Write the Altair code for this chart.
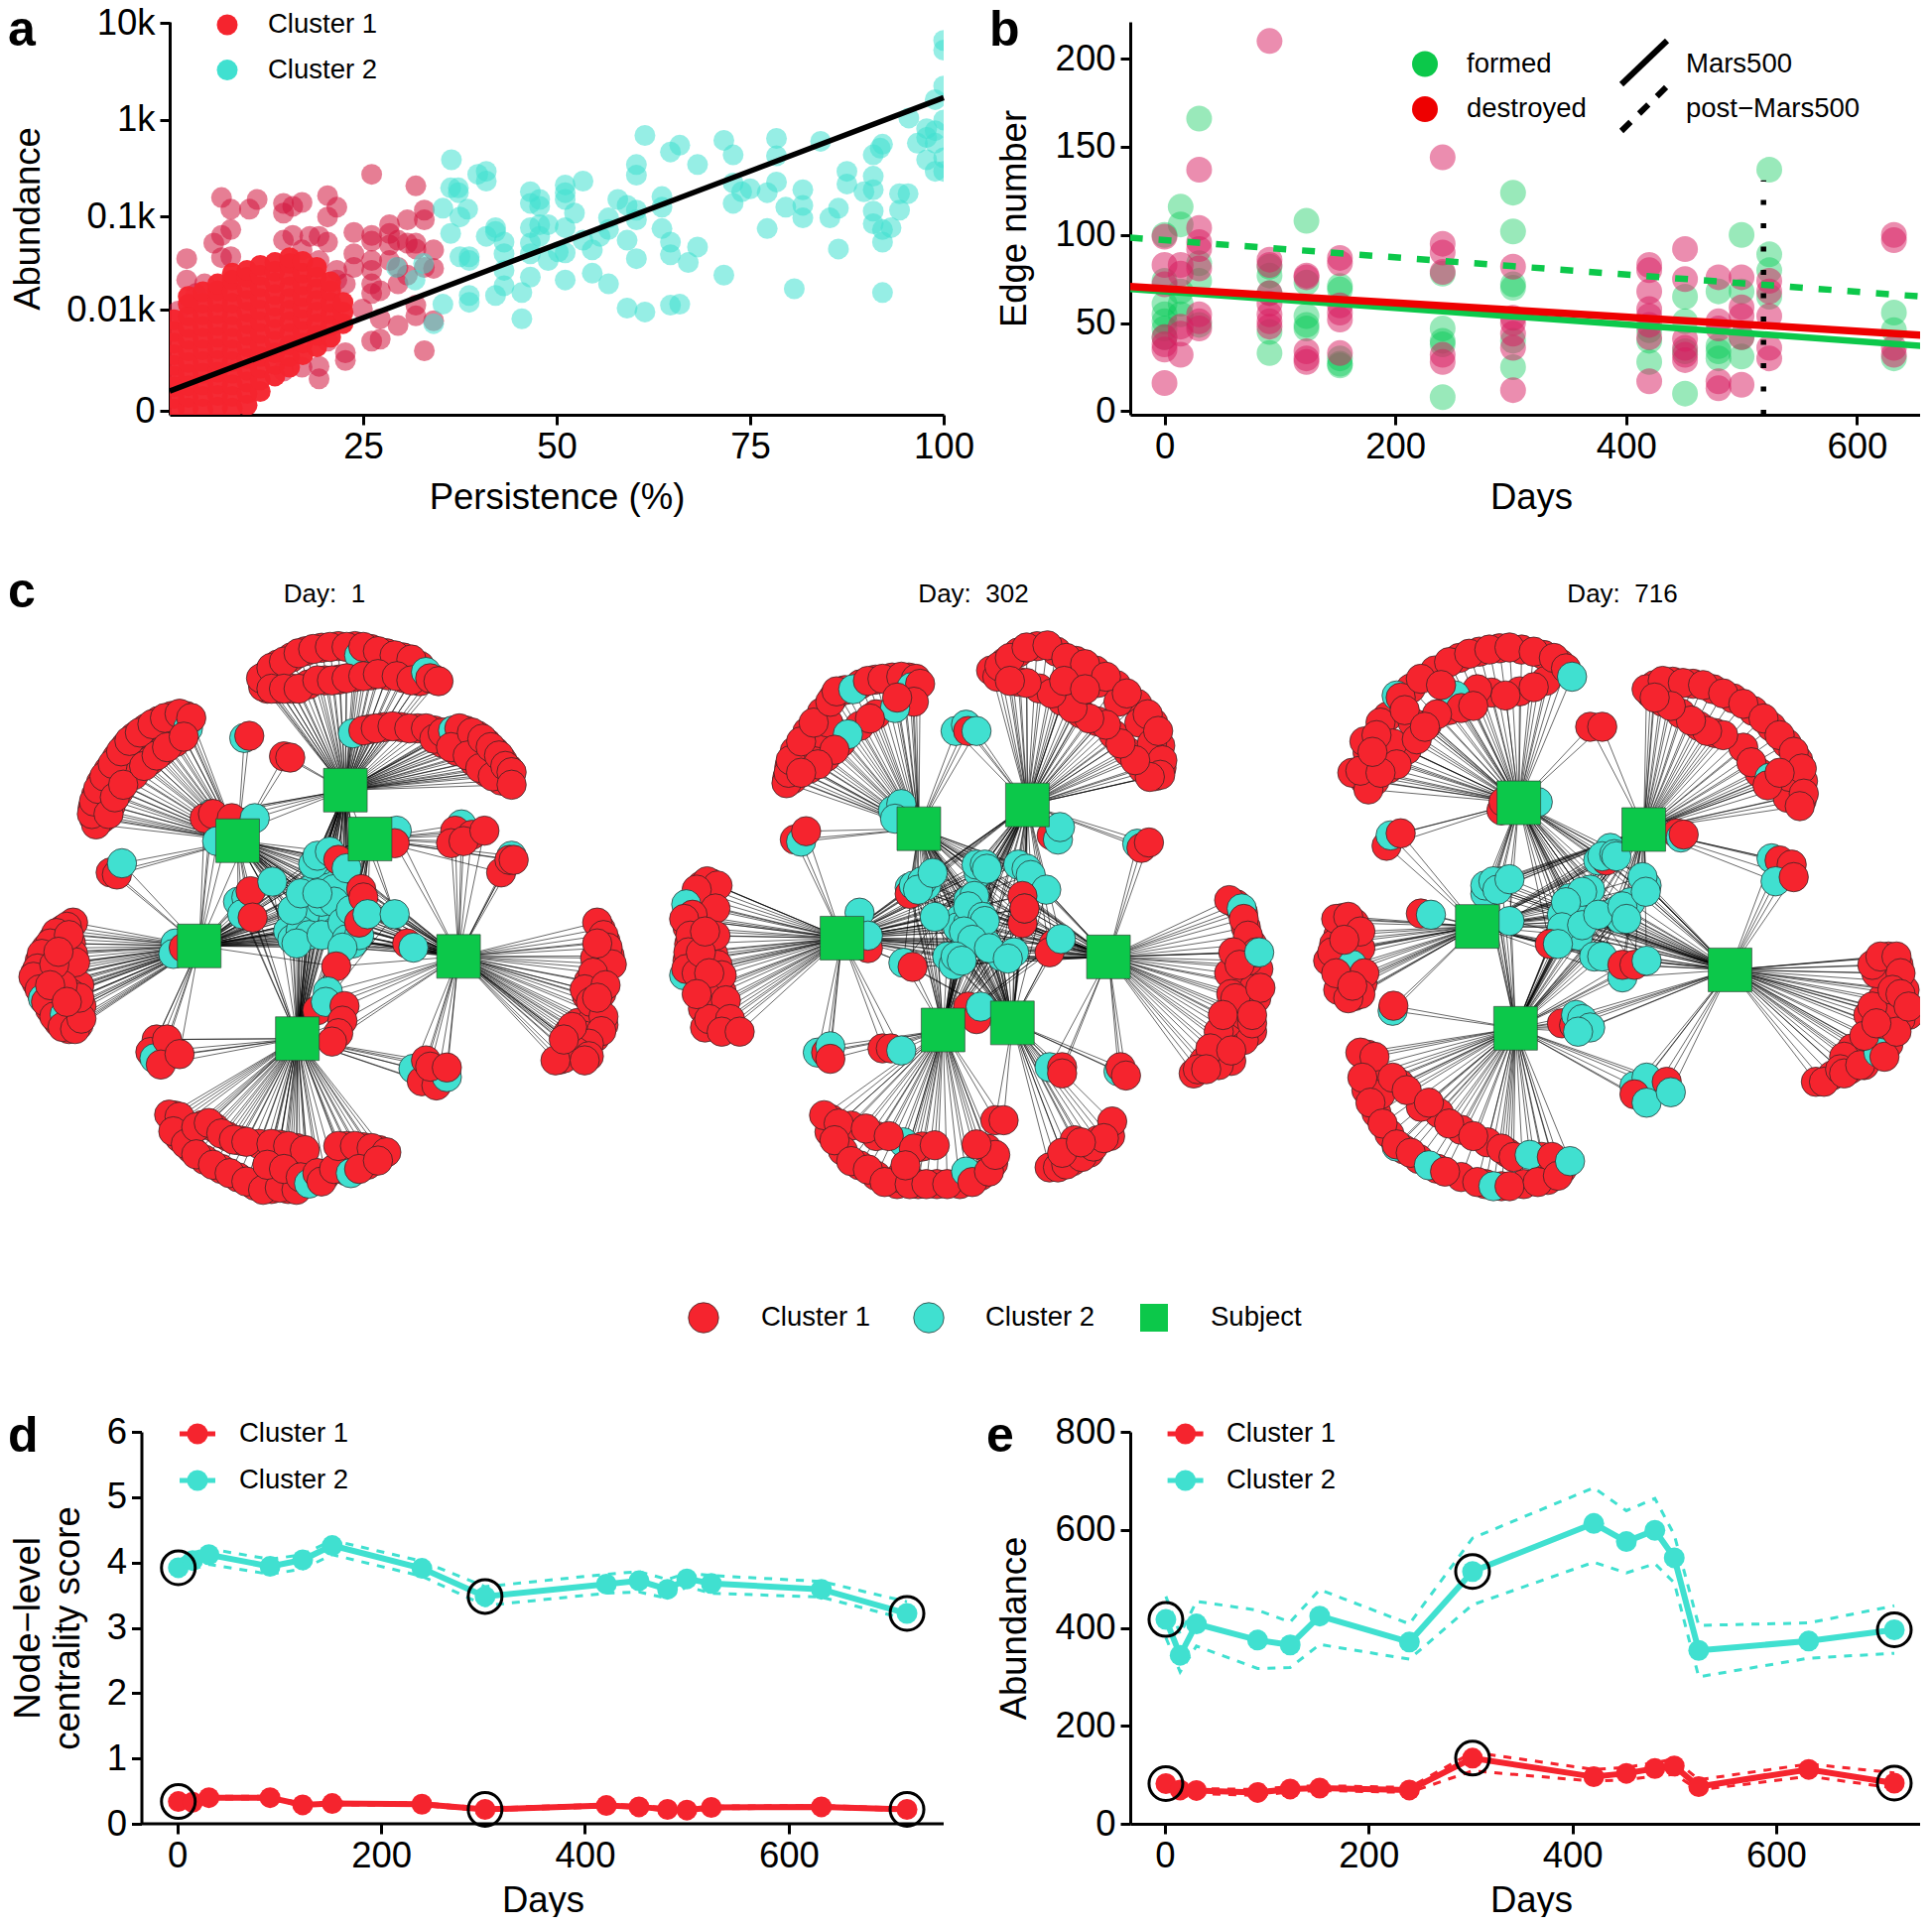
import altair as alt
import pandas as pd

FONT = "Liberation Sans"
RED = "#F5242E"
TEAL = "#40E0D0"
GREEN = "#0CC84A"
CRIMSON = "#D2143C"

# ---------- panel a : persistence (%) against log10(abundance + 1) ----------
A_TEAL = [(100,3.82),(100,3.72),(100,3.35),(98.9,3.21),(100,3.0),(95.5,3.02),(97.8,2.91),(98.9,2.89),(97.8,2.82),(98.9,2.76),(96.6,2.76),(97.8,2.59),(100,2.61),(98.9,2.47),(100,2.47),(92.1,2.75),(91.8,2.71),(90.9,2.64),(84.1,2.78),(78.4,2.81),(78.4,2.63),(71.6,2.79),(72.8,2.64),(65.9,2.74),(64.7,2.67),(68.2,2.54),(61.4,2.84),(60.3,2.54),(60.3,2.43),(36.4,2.59),(40.9,2.47),(39.8,2.44),(40.9,2.37),(53.4,2.37),(51.1,2.33),(46.6,2.26),(37.3,2.3),(36.3,2.3),(37.3,2.25),(35.3,2.09),(38.5,2.08),(37.5,2.0),(72.8,2.35),(78.4,2.36),(75,2.29),(77.2,2.25),(73.9,2.26),(72.8,2.14),(81.8,2.28),(81.8,2.12),(79.6,2.1),(86.4,2.09),(85.3,1.99),(81.8,1.99),(87.5,2.47),(87.5,2.34),(90.9,2.42),(90.9,2.28),(89.7,2.26),(94.3,2.24),(95.4,2.24),(94.3,2.07),(90.9,2.06),(90.9,1.93),(93.2,1.89),(92.1,1.87),(92.1,1.74),(86.4,1.67),(77.2,1.88),(57.9,2.18),(59.1,2.12),(60.3,2.07),(63.6,2.21),(63.6,2.1),(56.7,1.99),(60.3,1.97),(63.6,1.88),(64.7,1.74),(68.2,1.69),(64.7,1.61),(67,1.53),(59.1,1.76),(60.3,1.57),(56.7,1.87),(55.6,1.8),(53.4,1.76),(54.6,1.66),(46.6,2.14),(47.8,2.18),(47.8,2.11),(51.1,2.25),(51.1,2.18),(52.3,2.04),(46.6,1.89),(47.8,1.92),(48.9,1.92),(51.1,1.89),(46.6,1.73),(47.8,1.8),(50.2,1.64),(51.1,1.63),(48.9,1.55),(46.6,1.62),(42.1,1.89),(42.1,1.85),(40.9,1.8),(43.2,1.74),(43.2,1.62),(43.2,1.45),(38.7,1.59),(37.5,1.59),(38.7,1.55),(46.6,1.38),(43.2,1.29),(42.1,1.19),(45.5,1.22),(51.1,1.35),(54.6,1.42),(56.7,1.31),(38.7,1.19),(38.7,1.12),(35.3,1.1),(45.5,0.95),(59.1,1.06),(61.4,1.02),(64.7,1.09),(65.9,1.1),(71.6,1.4),(80.7,1.26),(92.1,1.22),(36.3,1.83),(29.3,1.48),(32.8,1.52),(31.7,1.35),(34.1,0.9)]
A_RED = [(26.1,2.44),(31.8,2.32),(6.7,2.2),(11.3,2.18),(7.9,2.08),(10.3,2.08),(14.7,2.14),(17.1,2.15),(15.9,2.11),(14.7,2.04),(20.4,2.22),(21.6,2.1),(20.4,2.0),(32.9,2.07),(32.9,1.97),(30.7,1.97),(28.4,1.92),(23.8,1.84),(26.1,1.81),(28.4,1.83),(29.5,1.76),(28.4,1.71),(26.1,1.75),(30.7,1.73),(31.8,1.73),(34.1,1.66),(31.8,1.67),(7.9,1.87),(6.7,1.81),(5.7,1.73),(7.9,1.59),(6.7,1.58),(2.2,1.57),(14.7,1.76),(15.9,1.81),(18.1,1.8),(19.3,1.8),(20.4,1.74),(17.1,1.66),(19.3,1.55),(23.8,1.62),(23.8,1.48),(26.1,1.55),(28.4,1.55),(29.5,1.48),(26.1,1.45),(32.9,1.48),(34.1,1.47),(30.7,1.4),(29.5,1.31),(26.1,1.31),(26.1,1.21),(27.2,1.24),(21.6,1.45),(21.6,1.35),(22.7,1.31),(24.9,1.05),(27.2,0.95),(29.5,0.88),(31.8,1.09),(31.8,0.98),(26.1,0.72),(27.2,0.74),(32.9,0.62),(22.7,0.6),(22.7,0.52),(19.3,0.46),(19.3,0.33),(14.7,0.41),(17.1,0.45),(20.4,0.72),(2.2,1.35),(4.5,1.31),(3.4,1.21),(1.1,1.03),(34.1,0.93)]
A_DENSE = {
    0.6:[.02,.13,.25,.36,.47,.58,.7,.82,.94],
    2.4:[.03,.14,.26,.38,.5,.62,.74,.86,.98,1.1,1.18],
    4.3:[.02,.15,.27,.39,.51,.63,.75,.87,.99,1.11,1.23],
    6.2:[.04,.16,.28,.4,.52,.64,.76,.88,1.0,1.12,1.24,1.31],
    8.1:[.03,.15,.27,.39,.51,.63,.75,.87,.99,1.11,1.23,1.35,1.42],
    10.0:[.06,.18,.3,.42,.54,.66,.78,.9,1.02,1.14,1.26,1.38,1.45],
    11.7:[.2,.32,.44,.56,.68,.8,.92,1.04,1.16,1.28,1.4,1.5],
    13.6:[.36,.48,.6,.72,.84,.96,1.08,1.2,1.32,1.44,1.53],
    15.5:[.45,.56,.68,.8,.92,1.04,1.16,1.28,1.4,1.52,1.58],
    17.2:[.58,.7,.82,.94,1.06,1.18,1.3,1.42,1.54],
    19.0:[.66,.78,.9,1.02,1.14,1.26,1.38,1.48],
    20.8:[.76,.88,1.0,1.12,1.24,1.33],
    22.4:[.9,1.02,1.12],
}
A_FIT_X = [0, 100]
A_FIT_Y = [0.204, 3.23]

# ---------- panel b : edges formed / destroyed ----------
B_DESTROYED = {0:[99,83,72,42,35,38,16],14:[83,78,48,44,32],30:[137,104,96,92,81,55,51,47],91:[210,86,83,67,61,55,51,48],123:[77,76,34,30,28],152:[87,84,60,56,52,33],241:[144,95,90,79,32,28],302:[82,53,50,44,36,12],420:[83,80,68,58,54,49,42,17],451:[92,75,41,36,32,29],480:[76,51,47,17,13],500:[76,59,54,42,15],524:[74,68,54,36,30],632:[100,97,36,32]}
B_FORMED = {0:[100,74,61,55,51,47,42],14:[116,106,68,61,55],30:[166,84,74,49],91:[82,77,67,45,33],123:[108,73,54,49,47],152:[71,69,30,27,26],241:[78,47,40,38,8],302:[124,102,72,70,40,25],420:[46,40,28],451:[65,51,34,10],480:[68,37,34,30],500:[100,68,42,31],524:[137,89,80,65],632:[56,46,30]}
B_LINE_X = [-30, 665]
B_RED = [70.7, 42.8]
B_GREEN = [69.4, 36.7]
B_GREEN_POST = [98.5, 64.6]
B_VLINE_DAY = 519

# ---------- panels d, e ----------
DAYS = [1,15,31,91,123,152,240,302,421,453,481,500,524,632,716]
D_T = [3.92,4.03,4.12,3.94,4.04,4.26,3.91,3.48,3.67,3.72,3.59,3.75,3.68,3.59,3.22]
D_T_HI = [4.03,4.15,4.21,4.05,4.12,4.34,4.02,3.63,3.82,3.86,3.74,3.84,3.8,3.71,3.4]
D_T_LO = [3.8,3.9,3.97,3.82,3.9,4.12,3.79,3.34,3.53,3.55,3.45,3.63,3.53,3.47,3.13]
D_R = [.34,.33,.4,.4,.29,.31,.3,.22,.28,.26,.22,.21,.25,.26,.22]
D_R_HI = [.37,.35,.42,.42,.31,.33,.32,.24,.3,.28,.24,.23,.27,.28,.24]
D_R_LO = [.31,.31,.38,.38,.27,.29,.28,.2,.26,.24,.2,.19,.23,.24,.2]
E_T = [417,344,408,375,365,424,371,515,613,576,599,543,354,373,396]
E_T_HI = [464,387,454,436,412,478,408,583,686,639,664,590,405,410,445]
E_T_LO = [380,310,363,317,319,366,336,447,534,512,531,492,300,338,348]
E_R = [82,69,68,64,71,73,69,134,96,103,113,118,76,111,83]
E_R_HI = [90,74,72,70,76,78,74,146,111,115,125,132,90,122,104]
E_R_LO = [74,63,62,58,65,68,64,108,87,90,97,101,69,97,73]
RING_DAYS = [1, 302, 716]

# ---------- panel c : network layouts (layout units; teal nodes carry a trailing 1) ----------
N1_SUBJ = [(827,533),(569,654),(886,650),(477,906),(1098,931),(712,1128)]
N1_GROUPS = [
 ([0],[(640,255),(665,232),(698,215),(732,200),(770,192),(810,188),(850,188),(888,195),(925,205),(965,215),(1005,235),(640,290),(665,290),(698,290),(738,280),(778,270),(812,268),(850,262),(888,258),(928,258),(968,265),(1005,272),(1040,268)]),
 ([0],[(885,387),(920,382),(960,382),(1000,385),(1040,390),(1080,392),(1115,390),(1143,402),(1165,420),(1185,440),(1203,462),(1218,482),(1135,465),(1165,490),(1095,440),(1200,510),(1060,420)]),
 ([1],[(225,600),(222,575),(230,545),(242,515),(260,485),(280,455),(300,428),(322,405),(350,385),(380,367),(412,355),(445,355),(245,600),(265,570),(285,535),(320,497),(360,462),(388,440),(420,418)]),
 ([3],[(148,868),(128,888),(110,912),(95,942),(85,970),(88,995),(102,1025),(120,1058),(140,1088),(165,1105),(188,1095),(170,900),(175,925),(190,1000),(195,1050),(170,1020),(140,980),(110,985),(130,1030),(150,1060)]),
 ([5],[(418,1312),(422,1332),(430,1365),(458,1392),(485,1335),(515,1342),(545,1362),(575,1372),(490,1418),(530,1440),(570,1460),(610,1480),(650,1488),(690,1488),(620,1380),(670,1382),(710,1390),(660,1435),(700,1450),(740,1455),(780,1455),(830,1385),(870,1388),(908,1395),(880,1430),(830,1445)]),
 ([4],[(1438,865),(1450,895),(1460,930),(1440,960),(1425,935),(1410,990),(1405,1025),(1430,1060),(1445,1095),(1425,1125),(1395,1150),(1365,1168),(1340,1178),(1360,1115),(1385,1090),(1440,1020),(1415,1090),(1395,1120),(1375,1140),(1360,1160)]),
 ([0],[(630,285),(625,265),(650,240),(680,225),(715,205),(750,195),(790,190),(830,190),(860,210,1),(870,190),(905,200),(945,210),(985,220),(650,290),(680,290),(715,290),(760,270),(795,270),(830,265),(870,260),(905,255),(950,260),(985,270),(1020,250,1),(1030,265),(1050,272)]),
 ([0],[(845,397,1),(870,390),(900,385),(940,380),(980,385),(1020,385),(1040,410),(1060,395),(1085,390,1),(1100,385),(1080,430),(1130,395),(1120,450),(1155,410),(1150,480),(1175,430),(1180,500),(1195,450),(1210,475),(1225,490),(1225,520)]),
 ([1],[(230,615),(220,590),(225,560),(235,530),(250,500),(270,470),(290,440),(310,415),(335,395),(365,375),(395,360),(430,350),(450,385,1),(458,360),(260,590),(275,550),(295,520),(345,475),(375,450),(400,430),(440,405)]),
 ([1],[(585,408,1),(597,403)]),
 ([0,1],[(680,452),(695,455)]),
 ([1,0,3],[(505,590,1),(490,600),(510,590),(555,600),(610,600,1),(520,655,1)]),
 ([1,3],[(265,730),(280,735),(292,708,1)]),
 ([1,3,5],[(570,800,1),(590,790,1),(580,830,1),(600,775),(605,838),(652,752,1)]),
 ([0,1,2,3,4,5],[(755,720,1),(775,720,1),(795,700,1),(730,810,1),(715,850,1),(750,860,1),(775,840,1),(795,830,1),(805,870,1),(745,770,1),(780,760,1),(800,770,1),(835,860,1),(845,900,1),(815,890,1),(690,870,1),(700,890,1),(770,700,1),(750,710,1),(760,690,1),(790,680,1),(810,700),(830,720,1),(740,800,1),(730,830,1),(770,800,1),(800,800,1),(720,870,1),(740,880,1),(700,820,1),(710,900,1),(770,880,1),(820,850,1),(840,820,1),(830,890,1),(860,880,1),(820,910,1),(720,780,1),(760,780,1),(865,770),(870,790),(860,850),(880,830,1),(945,830,1)]),
 ([3,4],[(975,900),(990,910,1),(805,955)]),
 ([5,4],[(785,1015,1),(760,1060),(780,1040,1),(825,1050),(820,1085),(810,1115),(795,1135)]),
 ([3],[(175,850),(160,860),(135,875),(120,900),(100,925),(90,960),(80,980),(95,1010),(103,1032,1),(110,1040),(130,1075),(155,1070,1),(150,1100),(180,1105),(195,1080),(180,945),(165,880),(190,1030),(150,1000),(130,950),(120,1000),(160,1040),(140,920)]),
 ([3],[(420,900,1),(415,925,1),(440,910)]),
 ([3,5],[(375,1130),(360,1160),(370,1175,1),(400,1130),(385,1190),(430,1165)]),
 ([5],[(405,1310),(430,1315),(415,1350),(445,1380),(470,1340),(500,1330),(530,1355),(560,1370),(590,1375),(470,1405),(510,1430),(550,1450),(590,1470),(630,1490),(670,1485),(710,1490),(650,1380),(690,1385),(730,1395),(640,1430),(680,1440),(720,1460),(740,1475,1),(760,1450),(770,1470),(800,1440),(840,1450,1),(810,1385),(850,1385),(890,1390),(925,1400),(860,1440),(905,1420)]),
 ([5,4],[(990,1200,1),(1010,1230),(1020,1180),(1045,1240),(1070,1220,1),(1030,1195),(1070,1197)]),
 ([4],[(1430,850),(1445,880),(1455,910),(1465,950),(1430,900),(1420,970),(1400,1010),(1415,1040),(1445,1075),(1440,1110),(1385,1150,1),(1410,1140),(1380,1160),(1350,1175),(1330,1180),(1370,1100),(1350,1130),(1410,1170),(1400,1180),(1450,1000),(1430,1030)]),
 ([2,4],[(950,630,1),(945,660),(1105,615,1),(1090,630),(1130,640),(1080,660),(1110,655),(1160,630),(1225,690,1),(1200,730),(1220,700),(1230,700)]),
]
N2_SUBJ = [(632,554),(892,497),(448,816),(1086,861),(690,1036),(856,1019)]
N2_GROUPS = [
 ([0],[(317,432),(322,405),(335,368),(365,322),(400,275),(428,238),(455,222),(492,208),(528,197),(568,192),(608,192),(330,435),(370,410),(410,382),(445,348),(490,308),(530,280),(600,245),(345,395),(365,370),(395,325),(415,300)]),
 ([1],[(838,155),(870,132),(915,117),(962,130),(1008,152),(1055,175),(1105,210),(1155,255),(1193,300),(1210,355),(1213,408),(1198,428),(1168,410),(1133,370),(1098,328),(1060,297),(1020,278),(975,248),(920,218),(870,202),(805,175),(820,190),(1000,170),(1060,205),(1110,250),(1160,300),(1190,350)]),
 ([2],[(112,690),(135,685),(122,722),(95,730),(80,765),(78,790),(115,775),(82,830),(78,870),(100,870),(140,855),(150,880),(140,930),(145,985),(155,1020),(185,1030),(115,985),(120,1030),(160,945)]),
 ([4],[(422,1250),(470,1265),(418,1280),(450,1325),(490,1360),(530,1385),(580,1405),(630,1405),(675,1405),(730,1405),(780,1385),(810,1355),(795,1320),(640,1315),(530,1290),(585,1390)]),
 ([3],[(1392,735),(1408,755),(1415,790),(1430,830),(1445,890),(1440,960),(1430,1040),(1410,1060),(1380,1110),(1350,1120),(1315,1110),(1290,1140),(1360,1060),(1370,1020),(1400,920),(1375,900),(1420,870),(1410,1000)]),
 ([0],[(315,445),(320,420),(325,390),(350,345),(380,300),(420,250),(435,225),(475,220,1),(510,200),(545,195),(590,190),(625,195),(615,215,1),(635,207),(620,250),(575,265,1),(580,240),(515,290),(462,328,1),(430,365),(390,400),(350,420)]),
 ([0,1],[(720,320,1),(745,305,1),(750,320),(770,320,1)]),
 ([1],[(825,165),(850,145),(890,120),(940,115),(985,145),(1030,160),(1080,190),(1130,230),(1180,280),(1205,320),(1215,390),(1210,425),(1185,430),(1150,390),(1115,350),(1080,305),(1040,290),(1000,265),(950,230),(890,205),(850,200),(980,200),(1030,220)]),
 ([0],[(570,510,1),(590,495,1),(575,530,1)]),
 ([0,2],[(335,580),(350,585,1),(362,560)]),
 ([1],[(950,570),(965,580,1),(970,550,1)]),
 ([1,3],[(1155,590,1),(1165,600),(1183,587)]),
 ([2],[(125,680),(150,690),(100,700),(145,745),(75,735,1),(90,760),(70,770),(85,810),(145,810),(80,850),(70,905,1),(75,890),(100,900),(160,905),(120,950),(170,965),(130,1010),(180,1010),(160,1040),(203,1040),(110,850),(120,800),(130,900),(100,950)]),
 ([0,1,2,3,4,5],[(780,650,1),(775,660,1),(750,725,1),(770,745,1),(730,770,1),(725,790,1),(750,780,1),(770,800,1),(745,830,1),(700,860,1),(715,880,1),(795,830,1),(830,860,1),(610,695,1),(650,690,1),(870,640,1),(770,640,1),(790,640,1),(795,650,1),(610,710),(620,690,1),(640,680,1),(630,700,1),(665,660,1),(670,765,1),(765,715,1),(750,740,1),(785,765,1),(790,775,1),(740,800,1),(760,820,1),(800,840,1),(720,860,1),(735,870,1),(860,850,1),(845,865,1),(890,650,1),(900,665,1),(937,700,1),(880,715),(880,780),(885,745,1),(885,745),(955,830),(945,850),(972,818,1),(595,875,1),(617,885)]),
 ([2],[(490,755,1),(510,840),(510,810,1)]),
 ([2,4],[(390,1090,1),(410,1090),(420,1075,1),(420,1105),(545,1080),(565,1080),(590,1085,1)]),
 ([5,4],[(750,980),(770,1010),(780,980,1)]),
 ([5,3],[(945,1125,1),(975,1125),(975,1140),(1110,1135,1),(1115,1125),(1128,1145)]),
 ([4,5],[(815,1252),(835,1252)]),
 ([4],[(405,1240),(440,1260),(505,1272),(430,1300),(470,1350),(510,1370),(550,1400),(610,1405),(650,1405),(700,1405),(745,1375,1),(760,1400),(800,1375),(815,1335),(770,1310),(595,1305,1),(560,1290),(620,1320),(670,1312),(600,1360)]),
 ([5],[(945,1365),(965,1365),(1000,1350),(1005,1300),(1040,1330),(1060,1300),(1090,1290),(1095,1255),(985,1358),(1022,1340),(1050,1315),(1075,1295),(975,1330),(1020,1305)]),
 ([3],[(1375,725),(1405,745,1),(1410,770),(1420,810),(1440,850),(1385,850),(1400,880),(1380,950),(1350,1040),(1330,1080),(1300,1130),(1320,1130),(1380,1085),(1430,1020),(1390,960),(1360,1000),(1450,935),(1430,1000),(1447,850,1)]),
]
N3_SUBJ = [(543,492),(853,556),(440,788),(1067,892),(535,1032)]
N3_GROUPS = [
 ([0],[(160,438),(168,372),(218,285),(275,218),(335,175),(395,145),(445,130),(495,122),(550,125),(605,138),(645,158),(610,200),(545,225),(475,228),(420,245),(370,270),(315,305),(265,365),(220,410),(185,440),(130,420),(160,345),(200,300),(280,300),(230,350)]),
 ([1],[(880,210),(925,202),(975,207),(1025,220),(1075,242),(1125,272),(1170,310),(1208,350),(1236,390),(1248,440),(1245,485),(1140,420),(1100,360),(1030,325),(990,308),(945,278),(900,250),(870,230),(1210,480),(1215,430)]),
 ([2],[(105,768),(135,780),(95,810),(85,830),(105,850),(145,890),(155,925),(135,955),(105,930),(95,940),(120,840),(150,840),(70,870)]),
 ([4],[(168,1095),(170,1125),(195,1150),(248,1165),(165,1180),(190,1235),(222,1285),(258,1322),(295,1345),(345,1235),(400,1275),(465,1305),(515,1330),(600,1340),(340,1368),(400,1388),(460,1405),(500,1410),(555,1405),(615,1395),(300,1220),(650,1370),(200,1190)]),
 ([3],[(1460,860),(1485,880),(1500,940),(1480,920),(1445,960),(1410,1000),(1460,1070),(1425,1095),(1395,1085),(1365,1130),(1320,1145),(1280,1160),(1430,900),(1420,880),(1450,1040),(1510,1000),(1490,1010),(1460,1000),(1400,1120),(1370,1080),(1350,1100)]),
 ([0],[(170,460),(150,415),(190,330),(240,235,1),(250,240),(300,195),(370,155),(420,135),(470,125),(520,120),(580,130),(630,145),(660,170),(675,190,1),(580,215),(510,235),(440,220),(385,235,1),(400,265),(340,280),(290,340),(240,400),(200,420),(180,370),(260,270),(350,210),(430,260),(310,310)]),
 ([0,1],[(720,310),(750,310)]),
 ([0],[(500,510),(505,490),(590,490,1)]),
 ([0,2],[(215,595),(225,570,1),(250,565)]),
 ([1],[(860,220),(900,200),(950,205),(1000,210),(1050,230),(1100,255),(1150,290),(1190,330),(1225,370),(1245,410),(1250,470),(1240,500),(1120,395),(1165,432,1),(1160,450),(1190,420),(1050,330),(1010,320),(970,295),(920,260),(880,240)]),
 ([1],[(935,565),(945,575,1),(952,568)]),
 ([1,3],[(1170,625,1),(1190,630),(1220,640),(1180,680,1),(1225,670)]),
 ([0,1,2,3,4],[(480,690,1),(500,680,1),(470,700,1),(650,760,1),(670,720,1),(680,760,1),(665,790,1),(690,810,1),(720,700,1),(785,750,1),(795,770,1),(820,730,1),(860,690,1),(740,630,1),(770,600,1),(460,710,1),(760,630),(750,620,1),(780,615,1),(785,620,1),(460,690,1),(480,680,1),(490,700,1),(520,675,1),(520,775,1),(700,705,1),(660,730,1),(650,790,1),(700,785,1),(740,760,1),(800,740,1),(810,770,1),(850,670,1),(858,705,1),(620,830),(640,830,1),(730,860,1),(750,860,1),(800,910,1),(800,880),(830,880),(860,870,1)]),
 ([2],[(300,757),(325,760,1)]),
 ([2],[(90,770),(120,765),(150,800),(80,850),(130,880,1),(160,900),(150,950),(120,960),(90,900),(110,820),(130,930)]),
 ([2,4],[(230,990,1),(232,978)]),
 ([4,3],[(650,1020),(680,1025),(685,1000,1),(700,1010,1),(720,1030,1),(690,1040,1)]),
 ([4,3],[(830,1170,1),(860,1150,1),(830,1190),(910,1160),(860,1210,1),(920,1185,1)]),
 ([4],[(150,1090),(185,1100),(155,1150),(230,1150),(265,1180),(175,1210),(205,1260),(240,1315,1),(240,1310),(275,1330),(320,1210),(370,1260),(430,1290),(500,1320),(530,1340),(570,1335,1),(625,1340),(320,1360,1),(360,1375),(440,1400),(480,1410,1),(520,1410),(590,1400),(640,1385),(670,1350,1)]),
 ([3],[(1440,860),(1480,860),(1490,900),(1420,980),(1470,940),(1300,1160),(1340,1130),(1350,1140),(1390,1120),(1435,1090,1),(1450,1100),(1400,1050),(1480,1040),(1430,1020),(1490,950),(1510,980)]),
]
# each layout: subjects, groups, x origin, y origin, x and y stretch of its frame
NETWORKS = [(N1_SUBJ,N1_GROUPS,0,570,2.376,2.376),(N2_SUBJ,N2_GROUPS,660,600,2.376,2.376),(N3_SUBJ,N3_GROUPS,1310,600,2.4615,2.376)]
DAY_TITLES = [("Day:\u00a0\u00a01",327),("Day:\u00a0\u00a0302",981),("Day:\u00a0\u00a0716",1635)]

# ---------- helpers ----------
ONE = pd.DataFrame({"a":[0]})
def txt(s, x, y, size=27.5, weight="normal", align="left", baseline="middle"):
    return alt.Chart(ONE).mark_text(text=s, font=FONT, fontSize=size, fontWeight=weight, align=align, baseline=baseline, color="black").encode(x=alt.value(x), y=alt.value(y))
def dot(x, y, color, d):
    return alt.Chart(ONE).mark_point(filled=True, opacity=1, size=d*d, color=color, shape="circle").encode(x=alt.value(x), y=alt.value(y))
def seg(x1, y1, x2, y2, color, w, dash=None):
    kw = {"strokeDash":dash} if dash else {}
    return alt.Chart(ONE).mark_rule(color=color, strokeWidth=w, **kw).encode(x=alt.value(x1), x2=alt.value(x2), y=alt.value(y1), y2=alt.value(y2))
def qx(title, dom, values, **kw):
    ax = dict(title=title, values=values, grid=False, labelFont=FONT, titleFont=FONT, labelFontSize=36.5, titleFontSize=36.5, titleFontWeight="normal",
              labelColor="black", titleColor="black", domainColor="black", tickColor="black", domainWidth=3, tickWidth=3, tickSize=10, labelPadding=4,
              labelFlush=False, labelOverlap=False, titleBaseline="alphabetic", titleY=94)
    ax.update(kw)
    return alt.X("x:Q", scale=alt.Scale(domain=dom, nice=False, zero=False), axis=alt.Axis(**ax))
def qy(title, dom, values, **kw):
    ax = dict(title=title, values=values, grid=False, labelFont=FONT, titleFont=FONT, labelFontSize=36.5, titleFontSize=36.5, titleFontWeight="normal",
              labelColor="black", titleColor="black", domainColor="black", tickColor="black", domainWidth=3, tickWidth=3, tickSize=10, labelPadding=5,
              labelFlush=False, labelOverlap=False, titleLineHeight=40, format="d")
    ax.update(kw)
    return alt.Y("y:Q", scale=alt.Scale(domain=dom, nice=False, zero=False), axis=alt.Axis(**ax))

# ---------- a ----------
ax_x = qx("Persistence (%)", [0,100], [25,50,75,100])
ax_y = qy("Abundance", [-0.04,4.012], [0,1.04,2.004,3,4], titleX=-124, format="",
          labelExpr="datum.value<0.5?'0':datum.value<1.5?'0.01k':datum.value<2.5?'0.1k':datum.value<3.5?'1k':'10k'")
a_red = pd.DataFrame(A_RED, columns=["x","y"])
a_teal = pd.DataFrame(A_TEAL, columns=["x","y"])
a_dense = pd.DataFrame([(k,v) for k,vs in A_DENSE.items() for v in vs], columns=["x","y"])
a_fit = pd.DataFrame({"x":A_FIT_X,"y":A_FIT_Y})
pa = alt.layer(
    alt.Chart(a_red).mark_point(filled=True, shape="circle", size=441, opacity=.55, color=CRIMSON, clip=True).encode(x=ax_x, y=ax_y),
    alt.Chart(a_dense).mark_point(filled=True, shape="circle", size=441, opacity=.97, color=RED, clip=True).encode(x=alt.X("x:Q"), y=alt.Y("y:Q")),
    alt.Chart(a_teal).mark_point(filled=True, shape="circle", size=441, opacity=.55, color=TEAL, clip=True).encode(x=alt.X("x:Q"), y=alt.Y("y:Q")),
    alt.Chart(a_fit).mark_line(color="black", strokeWidth=5.5).encode(x=alt.X("x:Q"), y=alt.Y("y:Q")),
    dot(58,3,RED,21), dot(58,48.6,TEAL,21), txt("Cluster 1",99,3), txt("Cluster 2",99,48.6),
    txt("a",-163,24,50,"bold",baseline="alphabetic"),
).properties(width=780, height=396)

# ---------- b ----------
def long(d):
    return pd.DataFrame([(k,v) for k,vs in d.items() for v in vs], columns=["x","y"])
bx = qx("Days", [-29.7,665], [0,200,400,600])
by = qy("Edge number", [-2,220.9], [0,50,100,150,200], titleX=-98)
def bl(ys, color, w, dash=None):
    kw = {"strokeDash":dash} if dash else {}
    return alt.Chart(pd.DataFrame({"x":B_LINE_X,"y":ys})).mark_line(color=color, strokeWidth=w, clip=True, **kw).encode(x=alt.X("x:Q"), y=alt.Y("y:Q"))
pb = alt.layer(
    alt.Chart(long(B_FORMED)).mark_point(filled=True, shape="circle", size=676, opacity=.4, color="#00C853").encode(x=bx, y=by),
    alt.Chart(long(B_DESTROYED)).mark_point(filled=True, shape="circle", size=676, opacity=.5, color="#D81B60").encode(x=alt.X("x:Q"), y=alt.Y("y:Q")),
    alt.Chart(pd.DataFrame({"x":[B_VLINE_DAY,B_VLINE_DAY],"y":[-2,131]})).mark_line(color="black", strokeWidth=5.5, strokeDash=[5,18.5]).encode(x=alt.X("x:Q"), y=alt.Y("y:Q")),
    bl(B_GREEN_POST,"#0CC84A",6.5,[13,16]), bl(B_GREEN,"#0CC84A",6.5), bl(B_RED,"#EE0000",7.5),
    dot(297,42.5,"#0CC84A",26), dot(297,88,"#EE0000",26),
    txt("formed",339,42.5), txt("destroyed",339,88),
    seg(495,63,541,19,"black",6), seg(495,110,541,65,"black",6,[13,12]),
    txt("Mars500",560,42.5), txt("post\u2212Mars500",560,88),
    txt("b",-142,24,50,"bold",baseline="alphabetic"),
).properties(width=808, height=396)

# ---------- c ----------
nodes, edges, squares = [], [], []
for subj, groups, ox, oy, sx, sy in NETWORKS:
    pts = [(ox+a/sx, oy+b/sy) for a,b in subj]
    squares += pts
    for links, ns in groups:
        for n in ns:
            p = (ox+n[0]/sx, oy+n[1]/sy)
            nodes.append((p[0], p[1], "t" if len(n)==3 else "r"))
            for l in links:
                edges.append((p[0], p[1], pts[l][0], pts[l][1]))
cx = alt.X("x:Q", scale=alt.Scale(domain=[171,951], nice=False, zero=False), axis=None)
cy = alt.Y("y:Q", scale=alt.Scale(domain=[1391,466], nice=False, zero=False), axis=None)
LEG_N = pd.DataFrame([(709,1326,"r"),(936,1326,"t")], columns=["x","y","c"])
LEG_T = pd.DataFrame([(767,1326,"Cluster 1"),(993,1326,"Cluster 2"),(1220,1326,"Subject")], columns=["x","y","t"])
fillc = alt.Fill("c:N", scale=alt.Scale(domain=["r","t"], range=[RED,TEAL]), legend=None)
pc = alt.layer(
    alt.Chart(pd.DataFrame(edges, columns=["x","y","x2","y2"])).mark_rule(color="black", strokeWidth=.7, opacity=.85).encode(x=cx, y=cy, x2="x2:Q", y2="y2:Q"),
    alt.Chart(pd.DataFrame(nodes, columns=["x","y","c"])).mark_point(filled=True, shape="circle", size=870, opacity=1, stroke="#222", strokeWidth=.7).encode(x=alt.X("x:Q"), y=alt.Y("y:Q"), fill=fillc),
    alt.Chart(pd.DataFrame(squares, columns=["x","y"])).mark_point(filled=True, shape="square", size=1936, opacity=1, color=GREEN, stroke="#333", strokeWidth=.6).encode(x=alt.X("x:Q"), y=alt.Y("y:Q")),
    alt.Chart(LEG_N).mark_point(filled=True, shape="circle", size=930, opacity=1, stroke="#222", strokeWidth=.7).encode(x=alt.X("x:Q"), y=alt.Y("y:Q"), fill=fillc),
    alt.Chart(pd.DataFrame({"x":[1163],"y":[1326]})).mark_point(filled=True, shape="square", size=784, opacity=1, color=GREEN).encode(x=alt.X("x:Q"), y=alt.Y("y:Q")),
    alt.Chart(LEG_T).mark_text(font=FONT, fontSize=27.5, align="left", baseline="middle", color="black").encode(x=alt.X("x:Q"), y=alt.Y("y:Q"), text="t:N"),
    alt.Chart(pd.DataFrame({"x":[s[1] for s in DAY_TITLES],"y":[597]*3,"t":[s[0] for s in DAY_TITLES]})).mark_text(font=FONT, fontSize=26, align="center", baseline="middle", color="black").encode(x=alt.X("x:Q"), y=alt.Y("y:Q"), text="t:N"),
    alt.Chart(pd.DataFrame({"x":[8],"y":[610],"t":["c"]})).mark_text(font=FONT, fontSize=50, fontWeight="bold", align="left", baseline="alphabetic", color="black").encode(x=alt.X("x:Q"), y=alt.Y("y:Q"), text="t:N"),
).properties(width=780, height=925)

blank = alt.Chart(ONE).mark_point(opacity=0).encode(x=alt.value(0), y=alt.value(0)).properties(width=808, height=925)

# ---------- d, e ----------
def series(mean, hi, lo, color):
    df = pd.DataFrame({"x":DAYS,"y":mean,"hi":hi,"lo":lo})
    X, Y = alt.X("x:Q"), alt.Y("y:Q")
    ring = df[df.x.isin(RING_DAYS)]
    return [
        alt.Chart(df).mark_line(color=color, strokeWidth=3, strokeDash=[8,8]).encode(x=X, y=alt.Y("hi:Q")),
        alt.Chart(df).mark_line(color=color, strokeWidth=3, strokeDash=[8,8]).encode(x=X, y=alt.Y("lo:Q")),
        alt.Chart(df).mark_line(color=color, strokeWidth=6).encode(x=X, y=Y),
        alt.Chart(df).mark_point(filled=True, shape="circle", size=441, opacity=1, color=color).encode(x=X, y=Y),
        alt.Chart(ring).mark_point(shape="circle", size=1156, opacity=1, color="black", strokeWidth=3, filled=False).encode(x=X, y=Y),
    ]
def legend_rows(mx, lx):
    out = []
    for y, c, s in [(2,RED,"Cluster 1"),(49,TEAL,"Cluster 2")]:
        out += [seg(mx-18,y,mx+18,y,c,5), dot(mx,y,c,21), txt(s,lx,y)]
    return out

dx = qx("Days", [-7.5,752], [0,200,400,600], domain=False, titleX=376, titleY=88)
dy = qy(["Node\u2212level","centrality score"], [0,6], [0,1,2,3,4,5,6], offset=28.5, titleX=-95)
base_d = alt.Chart(pd.DataFrame({"x":[-35.3],"x2":[752],"y":[0]})).mark_rule(color="black", strokeWidth=3).encode(x=dx, x2="x2:Q", y=dy)
pd_ = alt.layer(base_d, *series(D_R,D_R_HI,D_R_LO,RED), *series(D_T,D_T_HI,D_T_LO,TEAL), *legend_rows(28,70),
                txt("d",-163,20,50,"bold",baseline="alphabetic")).properties(width=780, height=395)
ex = qx("Days", [-34,753], [0,200,400,600], titleY=88)
ey = qy("Abundance", [0,800], [0,200,400,600,800], titleX=-98)
base_e = alt.Chart(pd.DataFrame({"x":[0],"y":[0]})).mark_point(opacity=0).encode(x=ex, y=ey)
pe = alt.layer(base_e, *series(E_R,E_R_HI,E_R_LO,RED), *series(E_T,E_T_HI,E_T_LO,TEAL), *legend_rows(55.6,97),
               txt("e",-145,20,50,"bold",baseline="alphabetic")).properties(width=808, height=395)

chart = alt.concat(pa, pb, pc, blank, pd_, pe, columns=2, spacing={"row":50,"column":188}, bounds="flush").resolve_scale(x="independent", y="independent").configure_view(stroke=None).properties(
    padding={"left":0,"top":-3,"right":-12,"bottom":-2}, background="white")
chart.save("out.html", embed_options={"renderer": "svg", "actions": False})
